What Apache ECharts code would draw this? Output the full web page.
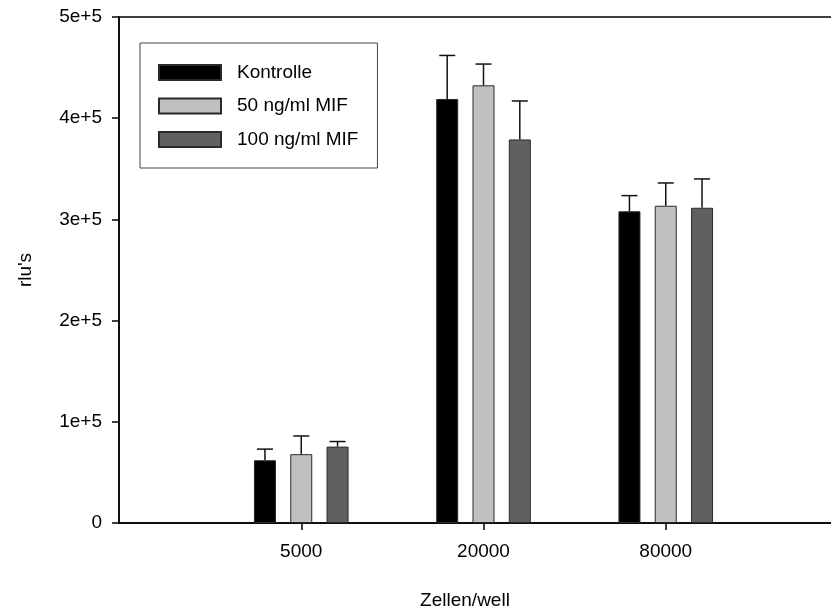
<!DOCTYPE html>
<html>
<head>
<meta charset="utf-8">
<script src="https://cdn.jsdelivr.net/npm/echarts@6/dist/echarts.min.js"></script>
<style>
  html, body { margin: 0; padding: 0; background: #fff; }
  #chart { width: 831px; height: 612px; }
</style>
</head>
<body>
<div id="chart"></div>
<script>
// Cell counts per well (empty slots pad both ends of the axis)
const cellCounts = ['5000', '20000', '80000'];
const seriesNames = ['Kontrolle', '50 ng/ml MIF', '100 ng/ml MIF'];

// Mean luminescence (rlu's) per group
const kontrolle = [62000, 419000, 308000];
const mif50 = [68000, 432500, 313500];
const mif100 = [75500, 379000, 311500];

// Upper error (one-sided) per group
const kontrolleErr = [11000, 43000, 15500];
const mif50Err = [18000, 21000, 22500];
const mif100Err = [5000, 38000, 28500];

const yTicks = [0, 100000, 200000, 300000, 400000, 500000];

const FONT = "'Liberation Sans', Arial, Helvetica, sans-serif";
const BAR_W = 22;
const BAR_GAP = 0.65;
const STEP = BAR_W * (1 + BAR_GAP);
const fills = ['#000000', '#c0c0c0', '#606060'];

const xCats = [''].concat(cellCounts, ['']);
const pad = arr => ['-'].concat(arr, ['-']);

const means = [kontrolle, mif50, mif100];
const errs = [kontrolleErr, mif50Err, mif100Err];

const barSeries = seriesNames.map((name, k) => ({
  name: name,
  type: 'bar',
  data: pad(means[k]),
  barWidth: BAR_W,
  barGap: (BAR_GAP * 100) + '%',
  itemStyle: { color: fills[k], borderColor: '#2a2a2a', borderWidth: 1 },
  emphasis: { disabled: true },
  z: 2
}));

const errSeries = seriesNames.map((name, k) => ({
  name: name + ' err',
  type: 'custom',
  data: means[k].map((v, i) => [i + 1, v, errs[k][i]]),
  encode: { x: 0, y: 1 },
  z: 3,
  silent: true,
  renderItem: function (params, api) {
    const idx = api.value(0);
    const v = api.value(1);
    const e = api.value(2);
    const base = api.coord([idx, v]);
    const top = api.coord([idx, v + e]);
    const x = base[0] + (k - 1) * STEP;
    const style = { stroke: '#111', lineWidth: 1.5, fill: null };
    return {
      type: 'group',
      children: [
        { type: 'line', shape: { x1: x, y1: base[1], x2: x, y2: top[1] }, style: style },
        { type: 'line', shape: { x1: x - 8, y1: top[1], x2: x + 8, y2: top[1] }, style: style }
      ]
    };
  }
}));

const chart = echarts.init(document.getElementById('chart'));
chart.setOption({
  animation: false,
  backgroundColor: '#ffffff',
  textStyle: { fontFamily: FONT, color: '#000' },
  grid: {
    left: 119, top: 17, bottom: 89, right: -17,
    outerBoundsMode: 'none',
    containLabel: false,
    show: true, borderColor: '#000', borderWidth: 1.5, backgroundColor: 'transparent'
  },
  legend: {
    data: seriesNames,
    orient: 'vertical',
    left: 140, top: 43,
    itemWidth: 62, itemHeight: 15, itemGap: 14.5,
    padding: [20, 19, 19, 18],
    borderColor: '#444', borderWidth: 1,
    selectedMode: false,
    icon: 'rect',
    textStyle: { fontFamily: FONT, fontSize: 19, color: '#000', padding: [0, 0, 0, 11] }
  },
  xAxis: {
    type: 'category',
    data: xCats,
    boundaryGap: false,
    name: 'Zellen/well',
    nameLocation: 'middle',
    nameGap: 68,
    nameTextStyle: { fontFamily: FONT, fontSize: 19, color: '#000', padding: [0, 37, 0, 0] },
    axisLine: { lineStyle: { color: '#000', width: 1.5 } },
    axisTick: {
      show: true, length: 7, inside: false,
      interval: (i, v) => v !== '',
      lineStyle: { color: '#000', width: 1.5 }
    },
    axisLabel: {
      interval: 0, margin: 19,
      fontFamily: FONT, fontSize: 19, color: '#000'
    },
    splitLine: { show: false }
  },
  yAxis: {
    type: 'value',
    min: yTicks[0],
    max: yTicks[yTicks.length - 1],
    interval: yTicks[1] - yTicks[0],
    name: "rlu's",
    nameLocation: 'middle',
    nameGap: 84,
    nameTextStyle: { fontFamily: FONT, fontSize: 19, color: '#000' },
    axisLine: { show: true, lineStyle: { color: '#000', width: 1.5 } },
    axisTick: { show: true, length: 7, inside: false, lineStyle: { color: '#000', width: 1.5 } },
    axisLabel: {
      margin: 17, fontFamily: FONT, fontSize: 19, color: '#000',
      formatter: v => (v === 0 ? '0' : (v / 100000) + 'e+5')
    },
    splitLine: { show: false }
  },
  series: barSeries.concat(errSeries)
});
</script>
</body>
</html>
